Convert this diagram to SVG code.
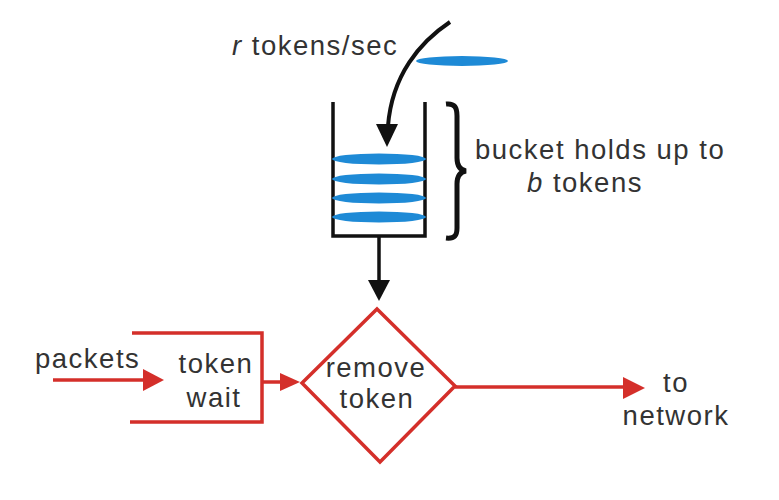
<svg xmlns="http://www.w3.org/2000/svg" width="779" height="500" viewBox="0 0 779 500">
<style>
text{font-family:"Liberation Sans",Arial,sans-serif;font-size:27.5px;fill:#333;letter-spacing:1.5px}
.c{text-anchor:middle}
.blk{fill:none;stroke:#111;stroke-width:3.5}
.red{fill:none;stroke:#d42f2a;stroke-width:3.5}
.tok{fill:#1e8ad6}
.hb{fill:#111}
.hr{fill:#d42f2a}
</style>
<rect width="779" height="500" fill="#fff"/>
<g id="rate-label">
<text x="232" y="55"><tspan font-style="italic">r</tspan> tokens/sec</text>
</g>
<g id="incoming-token">
<ellipse class="tok" cx="462" cy="61" rx="46" ry="5"/>
</g>
<g id="bucket">
<path class="blk" d="M333,102 V236 H425 V102"/>
<ellipse class="tok" cx="379" cy="159" rx="47" ry="5.5"/>
<ellipse class="tok" cx="379" cy="179" rx="47" ry="5.5"/>
<ellipse class="tok" cx="379" cy="198" rx="47" ry="5.5"/>
<ellipse class="tok" cx="379" cy="217" rx="47" ry="5.5"/>
</g>
<g id="brace">
<path d="M446,104 C455,103 457,108 457,116 L457,158 C457,166 460,170 466,171 C460,172 457,176 457,184 L457,228 C457,235 455,239 446,238" fill="none" stroke="#111" stroke-width="5"/>
<text x="475" y="159">bucket holds up to</text>
<text x="527" y="192"><tspan font-style="italic">b</tspan> tokens</text>
</g>
<g id="packets-label">
<text x="35" y="368">packets</text>
</g>
<g id="token-wait">
<path class="red" d="M132,333 H262 V422 H130"/>
<text class="c" x="216" y="373">token</text>
<text class="c" x="214" y="407">wait</text>
</g>
<g id="remove-token">
<polygon class="red" points="377,309 455,386 380,462 302,383"/>
<text class="c" x="376" y="377">remove</text>
<text class="c" x="377" y="408">token</text>
</g>
<g id="to-network">
<text class="c" x="676" y="392">to</text>
<text class="c" x="676" y="425">network</text>
</g>
<g id="connectors">
<path d="M450,22 C420,42 392,75 388,126" fill="none" stroke="#111" stroke-width="4"/>
<polygon class="hb" points="376,124 398,124 387,147"/>
<path class="blk" d="M379,236 V282"/>
<polygon class="hb" points="368,280 390,280 379,301"/>
<path class="red" d="M53,380 H146"/>
<polygon class="hr" points="143,369 164,380 143,391"/>
<path class="red" d="M262,382 H282"/>
<polygon class="hr" points="280,373 300,382 280,391"/>
<path class="red" d="M455,387 H626"/>
<polygon class="hr" points="623,377 645,388 623,399"/>
</g>
</svg>
